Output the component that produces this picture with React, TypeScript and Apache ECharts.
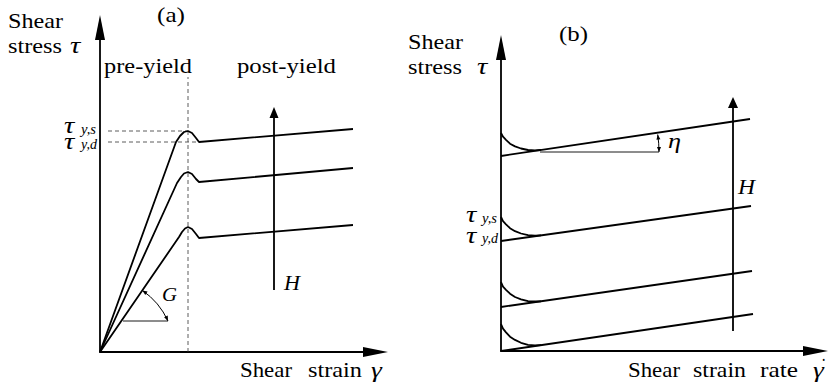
import React, { useEffect, useRef } from "react";
import * as echarts from "echarts";

// ---------- Panel (a): shear stress vs shear strain (schematic units) ----------
const strainCurveHigh = [[0, 0], [76, 210], [80, 216], [84, 220], [88, 221], [92, 219], [96, 214], [99, 210], [253, 223]];
const strainCurveMid = [[0, 0], [77, 169], [81, 175], [84, 178.5], [88, 180], [92, 178], [96, 173], [99, 170], [253, 184]];
const strainCurveLow = [[0, 0], [79, 115], [82, 120], [85, 123.5], [88, 125], [92, 123], [96, 118], [99, 114], [253, 127]];
const yieldStrainLine = [[88, 0], [88, 275]];
const staticYieldLine = [[8, 221], [88, 221]];
const dynamicYieldLine = [[8, 210], [99, 210]];
const modulusRefLine = [[23, 31], [68, 31]];
const fieldArrowA = [[174, 62], [174, 239.5]];
const axisMaxA = [275.5, 324.5];

// ---------- Panel (b): shear stress vs shear strain rate ----------
const rateLine1 = [[0, 195], [249, 232]];
const rateLine2 = [[0, 110], [250, 145]];
const rateLine3 = [[0, 44], [251, 80]];
const rateLine4 = [[0, 0], [252, 37]];
const overshoot1 = [[0, 218], [2, 214.3], [5, 211.2], [9, 207.3], [14, 204.6], [20, 202.5], [27, 201], [34, 200.7], [40, 201]];
const overshoot2 = [[0, 134], [2, 129.8], [5, 126.7], [9, 122.8], [14, 119.8], [20, 117.5], [27, 115.8], [34, 115.4], [40, 115.6]];
const overshoot3 = [[0, 69], [2, 64.3], [5, 61.2], [9, 57.3], [14, 54], [20, 51.7], [27, 49.9], [34, 49.5], [40, 49.7]];
const overshoot4 = [[0, 27], [2, 22.3], [5, 18.7], [9, 14.3], [14, 11.1], [20, 8.2], [27, 6.2], [34, 5.7], [40, 5.9]];
const viscosityRefLine = [[39, 199], [158, 199]];
const fieldArrowB = [[232, 20], [232, 248.5]];
const axisMaxB = [314.5, 303.5];

const SERIF = "Liberation Serif";

function axis(gridIndex: number, max: number) {
  return {
    type: "value",
    gridIndex,
    min: 0,
    max,
    axisLine: {
      show: true,
      onZero: true,
      symbol: ["none", "triangle"],
      symbolSize: [10, 25],
      lineStyle: { color: "#000", width: 1.8 },
    },
    axisTick: { show: false },
    axisLabel: { show: false },
    splitLine: { show: false },
  };
}

function line(idx: number, data: number[][], width = 1.8, type: any = "solid", color = "#000") {
  return {
    type: "line",
    xAxisIndex: idx,
    yAxisIndex: idx,
    data,
    symbol: "none",
    showSymbol: false,
    silent: true,
    lineStyle: { color, width, type },
  };
}

function arrowLine(idx: number, data: number[][], size: number[]) {
  return {
    type: "line",
    xAxisIndex: idx,
    yAxisIndex: idx,
    silent: true,
    symbol: "none",
    showSymbol: true,
    lineStyle: { color: "#000", width: 1.8 },
    itemStyle: { color: "#000" },
    data: [
      { value: data[0], symbol: "none" },
      { value: data[1], symbol: "triangle", symbolSize: size },
    ],
  };
}

function measure(text: string, size: number, italic: boolean) {
  const t = new (echarts.graphic as any).Text({
    style: { text, fontSize: size, fontFamily: SERIF, fontStyle: italic ? "italic" : "normal" },
  });
  return t.getBoundingRect().width || 1;
}

// text placed from left edge x0 towards right edge x1, with alphabetic baseline b
function txt(x0: number, x1: number, b: number, text: string, size: number, italic = false) {
  const w = measure(text, size, italic);
  const sx = Math.max(0.8, Math.min(1.25, (x1 - x0) / w));
  return {
    type: "text",
    x: x0,
    y: b - size * 0.3,
    scaleX: sx,
    silent: true,
    style: {
      text,
      fill: "#000",
      fontSize: size,
      fontFamily: SERIF,
      fontStyle: italic ? "italic" : "normal",
      align: "left",
      verticalAlign: "middle",
    },
  };
}

function arcWithArrows(cx: number, cy: number, r: number, a0: number, a1: number) {
  const len = 5;
  const w = 4;
  const head = (a: number, dir: number) => {
    const px = cx + r * Math.cos(a);
    const py = cy + r * Math.sin(a);
    const tx = -Math.sin(a) * dir;
    const ty = Math.cos(a) * dir;
    const nx = Math.cos(a);
    const ny = Math.sin(a);
    const bx = px - tx * len;
    const by = py - ty * len;
    return {
      type: "polygon",
      silent: true,
      shape: { points: [[px, py], [bx + (nx * w) / 2, by + (ny * w) / 2], [bx - (nx * w) / 2, by - (ny * w) / 2]] },
      style: { fill: "#000" },
    };
  };
  return [
    {
      type: "arc",
      silent: true,
      shape: { cx, cy, r, startAngle: a0, endAngle: a1, clockwise: true },
      style: { stroke: "#000", lineWidth: 1, fill: null },
    },
    head(a0, -1),
    head(a1, 1),
  ];
}

export default function App() {
  const ref = useRef<HTMLDivElement>(null);
  useEffect(() => {
    if (!ref.current) return;
    const chart = echarts.init(ref.current, null, { renderer: "svg" });
    chart.setOption({
      animation: false,
      backgroundColor: "#fff",
      grid: [
        { left: 100, top: 27.5, width: 275.5, height: 324.5 },
        { left: 501, top: 47.5, width: 314.5, height: 303.5 },
      ],
      xAxis: [axis(0, axisMaxA[0]), axis(1, axisMaxB[0])],
      yAxis: [axis(0, axisMaxA[1]), axis(1, axisMaxB[1])],
      series: [
        line(0, yieldStrainLine, 0.8, [4, 3], "#333"),
        line(0, staticYieldLine, 0.8, [4, 3], "#333"),
        line(0, dynamicYieldLine, 0.8, [4, 3], "#333"),
        line(0, modulusRefLine, 0.9),
        line(0, strainCurveHigh),
        line(0, strainCurveMid),
        line(0, strainCurveLow),
        arrowLine(0, fieldArrowA, [9, 11]),
        line(1, viscosityRefLine, 0.9),
        line(1, rateLine1),
        line(1, rateLine2),
        line(1, rateLine3),
        line(1, rateLine4),
        line(1, overshoot1),
        line(1, overshoot2),
        line(1, overshoot3),
        line(1, overshoot4),
        arrowLine(1, fieldArrowB, [10, 11]),
      ],
    });

    const pA = (v: number[]) => chart.convertToPixel({ gridIndex: 0 }, v) as number[];
    const pB = (v: number[]) => chart.convertToPixel({ gridIndex: 1 }, v) as number[];

    // G arc: centred at origin of (a), from the low curve to the reference line end
    const oA = pA([0, 0]);
    const lowDir = pA(strainCurveLow[1]);
    const refEnd = pA(modulusRefLine[1]);
    const gR = Math.hypot(refEnd[0] - oA[0], refEnd[1] - oA[1]);
    const gA0 = Math.atan2(lowDir[1] - oA[1], lowDir[0] - oA[0]);
    const gA1 = Math.atan2(refEnd[1] - oA[1], refEnd[0] - oA[0]);

    // eta arc: centred at tangent point
    const c = pB(viscosityRefLine[0]);
    const e = pB(viscosityRefLine[1]);
    const l0 = pB(rateLine1[0]);
    const l1 = pB(rateLine1[1]);
    const eR = Math.hypot(e[0] - c[0], e[1] - c[1]);
    const eA0 = Math.atan2(l1[1] - l0[1], l1[0] - l0[0]);

    chart.setOption({
      graphic: [
        ...arcWithArrows(oA[0], oA[1], gR, gA0, gA1),
        ...arcWithArrows(c[0], c[1], eR, eA0, 0),
        // panel (a) texts
        txt(8, 63, 27, "Shear", 21),
        txt(8, 62, 52, "stress", 21),
        txt(70, 82, 52, "τ", 23, true),
        txt(157, 185, 21, "(a)", 21),
        txt(104, 192, 72, "pre-yield", 21),
        txt(237, 336, 72, "post-yield", 21),
        txt(64, 79, 132, "τ", 23, true),
        txt(81, 96, 133, "y,s", 14, true),
        txt(64, 79, 148, "τ", 23, true),
        txt(81, 97, 149, "y,d", 14, true),
        txt(162, 177, 300, "G", 18, true),
        txt(284, 300, 289, "H", 20, true),
        txt(240, 292, 376, "Shear", 21),
        txt(308, 362, 376, "strain", 21),
        txt(371, 385, 376, "γ", 22, true),
        // panel (b) texts
        txt(408, 463, 48, "Shear", 21),
        txt(408, 462, 73, "stress", 21),
        txt(477, 488, 73, "τ", 23, true),
        txt(559, 588, 40, "(b)", 21),
        txt(668, 683, 147, "η", 21, true),
        txt(738, 755, 193, "H", 21, true),
        txt(466, 481, 221, "τ", 23, true),
        txt(482, 497, 222, "y,s", 14, true),
        txt(466, 481, 242, "τ", 23, true),
        txt(482, 498, 243, "y,d", 14, true),
        txt(628, 680, 376, "Shear", 21),
        txt(693, 746, 376, "strain", 21),
        txt(760, 798, 376, "rate", 21),
        txt(813, 828, 376, "γ", 22, true),
        txt(821, 826, 372, "˙", 20),
      ],
    });
    return () => chart.dispose();
  }, []);
  return (
    <div
      ref={ref}
      style={{ position: "fixed", left: 0, top: 0, width: 836, height: 388, background: "#fff" }}
    />
  );
}
